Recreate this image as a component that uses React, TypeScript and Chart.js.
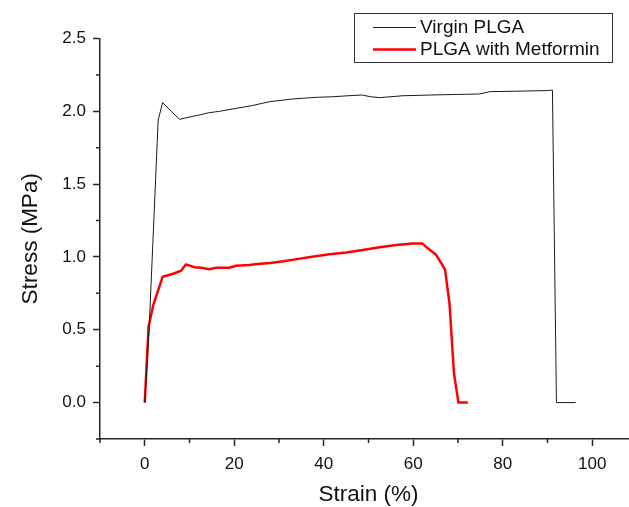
import React, { useEffect, useRef } from 'react';
import { Chart, registerables } from 'chart.js';

Chart.register(...registerables);

// ---- data ----
const seriesLabels = ['Virgin PLGA', 'PLGA with Metformin'];

const virginStrain = [0, 1.0, 3.0, 4.0, 5.9, 7.8, 9.2, 12.2, 14.3, 16.7, 20.4, 24.1, 27.9, 33.1, 38.3, 42, 46, 48.5, 50.5, 52.5, 57.7, 66.6, 74.8, 77.1, 89.7, 91.1, 92.0, 96.3];
const virginStress = [0, 0.52, 1.94, 2.06, 2.0, 1.945, 1.955, 1.975, 1.99, 2.0, 2.02, 2.04, 2.066, 2.085, 2.096, 2.1, 2.108, 2.112, 2.1, 2.094, 2.107, 2.114, 2.119, 2.135, 2.142, 2.146, 0, 0];

const metforminStrain = [0, 0.85, 1.9, 4.0, 6.2, 8.1, 9.2, 11.1, 12.6, 14.4, 15.9, 18.9, 20.4, 23.4, 25.2, 28, 31, 34, 37, 41.3, 45.0, 48.7, 52.5, 56.2, 59.9, 62.0, 63.0, 65.1, 67.1, 68.1, 69.1, 70.1, 72.2];
const metforminStress = [0, 0.52, 0.67, 0.864, 0.883, 0.905, 0.949, 0.929, 0.926, 0.915, 0.926, 0.926, 0.94, 0.944, 0.951, 0.958, 0.97, 0.985, 1.0, 1.018, 1.031, 1.047, 1.066, 1.082, 1.093, 1.093, 1.066, 1.015, 0.915, 0.68, 0.2, 0, 0];

const xMajorTicks = [0, 20, 40, 60, 80, 100];
const xMinorTicks = [-10, 10, 30, 50, 70, 90, 110];
const yMajorTicks = [0, 0.5, 1.0, 1.5, 2.0, 2.5];
const yMinorTicks = [-0.25, 0.25, 0.75, 1.25, 1.75, 2.25];

const xAxisTitle = 'Strain (%)';
const yAxisTitle = 'Stress (MPa)';

// ---- style ----
const FONT = "'Liberation Sans', Arial, sans-serif";
const AXIS = '#262626';
const TEXT = '#111111';

const minorTickPlugin = {
  id: 'minorTicks',
  afterDraw(chart: any) {
    const { ctx, chartArea, scales } = chart;
    const x = scales.x;
    const y = scales.y;
    ctx.save();
    ctx.strokeStyle = AXIS;
    ctx.lineWidth = 1.5;
    ctx.beginPath();
    xMinorTicks.forEach((v) => {
      const px = x.getPixelForValue(v);
      ctx.moveTo(px, chartArea.bottom);
      ctx.lineTo(px, chartArea.bottom + 4);
    });
    yMinorTicks.forEach((v) => {
      const py = y.getPixelForValue(v);
      ctx.moveTo(chartArea.left, py);
      ctx.lineTo(chartArea.left - 4, py);
    });
    ctx.stroke();
    ctx.restore();
  },
};

const boxLegendPlugin = {
  id: 'boxLegend',
  afterDraw(chart: any) {
    const ctx = chart.ctx;
    const left = 354;
    const top = 13;
    const right = 612;
    const bottom = 62;
    ctx.save();
    ctx.strokeStyle = '#333333';
    ctx.lineWidth = 1;
    ctx.strokeRect(left + 0.5, top + 0.5, right - left, bottom - top);
    ctx.font = `19px ${FONT}`;
    ctx.textBaseline = 'middle';
    ctx.textAlign = 'left';
    ctx.fillStyle = TEXT;
    const rows = [27.5, 49.5];
    chart.data.datasets.forEach((ds: any, i: number) => {
      const yy = rows[i];
      ctx.strokeStyle = ds.borderColor;
      ctx.lineWidth = ds.borderWidth;
      ctx.beginPath();
      ctx.moveTo(373, yy);
      ctx.lineTo(416, yy);
      ctx.stroke();
      ctx.fillText(ds.label, 420, yy);
    });
    ctx.restore();
  },
};

export default function App() {
  const canvasRef = useRef<HTMLCanvasElement | null>(null);

  useEffect(() => {
    document.body.style.margin = '0';
    document.body.style.overflow = 'hidden';
    const canvas = canvasRef.current;
    if (!canvas) return;

    const chart = new Chart(canvas, {
      type: 'line',
      data: {
        datasets: [
          {
            label: seriesLabels[0],
            data: virginStrain.map((x, i) => ({ x, y: virginStress[i] })),
            borderColor: '#1a1a1a',
            borderWidth: 1,
            pointRadius: 0,
            tension: 0,
            fill: false,
          },
          {
            label: seriesLabels[1],
            data: metforminStrain.map((x, i) => ({ x, y: metforminStress[i] })),
            borderColor: '#ff0000',
            borderWidth: 2.5,
            pointRadius: 0,
            tension: 0,
            fill: false,
          },
        ],
      },
      options: {
        responsive: false,
        animation: false,
        devicePixelRatio: 1,
        layout: { padding: { left: 0, top: 38.5, right: 3, bottom: 0 } },
        font: { family: FONT },
        plugins: {
          legend: { display: false },
          tooltip: { enabled: false },
        },
        scales: {
          x: {
            type: 'linear',
            min: -10,
            max: 110,
            afterBuildTicks: (s: any) => {
              s.ticks = xMajorTicks.map((v) => ({ value: v }));
            },
            afterFit: (s: any) => {
              s.height = 68;
            },
            grid: {
              drawOnChartArea: false,
              drawTicks: true,
              tickLength: 7,
              tickWidth: 1.5,
              tickColor: AXIS,
            },
            border: { display: true, color: AXIS, width: 1.5 },
            ticks: {
              color: TEXT,
              font: { family: FONT, size: 17 },
              padding: 8,
              maxRotation: 0,
              autoSkip: false,
              callback: (v: any) => String(v),
            },
            title: {
              display: true,
              text: xAxisTitle,
              color: TEXT,
              font: { family: FONT, size: 22.5, lineHeight: 1.1 },
              padding: 0,
            },
          },
          y: {
            type: 'linear',
            min: -0.25,
            max: 2.5,
            afterBuildTicks: (s: any) => {
              s.ticks = yMajorTicks.map((v) => ({ value: v }));
            },
            afterFit: (s: any) => {
              s.width = 100;
            },
            grid: {
              drawOnChartArea: false,
              drawTicks: true,
              tickLength: 7,
              tickWidth: 1.5,
              tickColor: AXIS,
            },
            border: { display: true, color: AXIS, width: 1.5 },
            ticks: {
              color: TEXT,
              font: { family: FONT, size: 17 },
              padding: 7,
              autoSkip: false,
              callback: (v: any) => Number(v).toFixed(1),
            },
            title: {
              display: true,
              text: yAxisTitle,
              color: TEXT,
              font: { family: FONT, size: 22.5 },
              padding: { top: 17, bottom: 0 },
            },
          },
        },
      },
      plugins: [minorTickPlugin, boxLegendPlugin],
    });

    return () => chart.destroy();
  }, []);

  return (
    <div style={{ width: 640, height: 507 }}>
      <canvas ref={canvasRef} width={640} height={507} style={{ display: 'block' }} />
    </div>
  );
}
